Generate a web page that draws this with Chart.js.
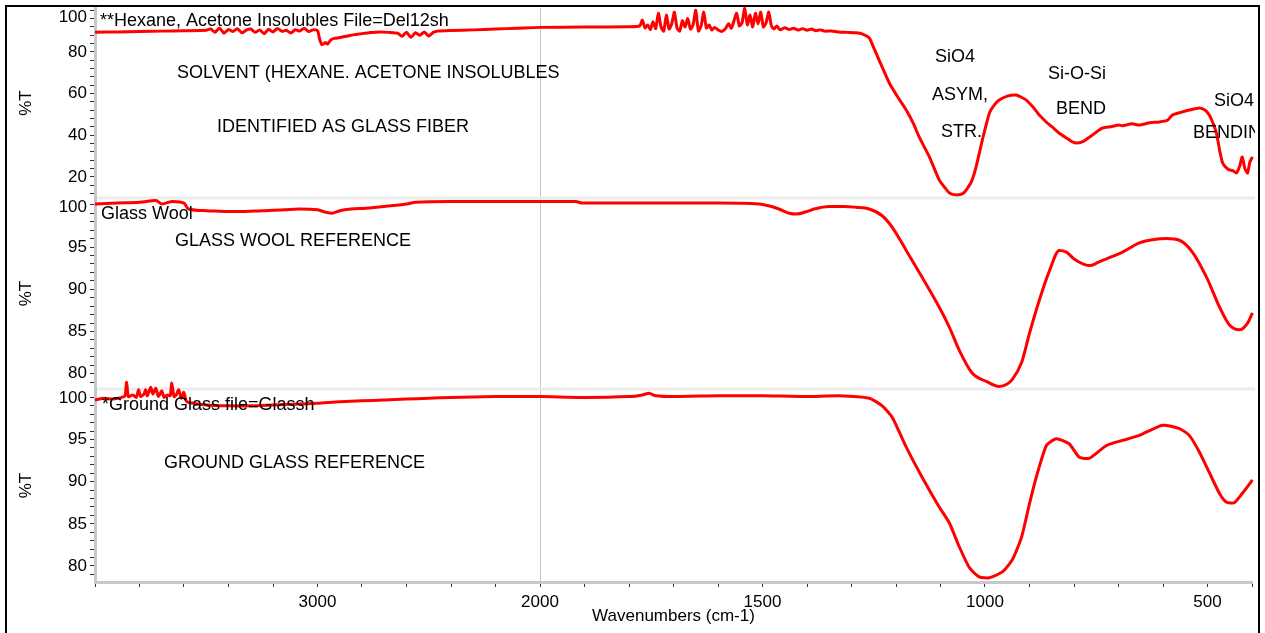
<!DOCTYPE html>
<html><head><meta charset="utf-8">
<script src="https://cdn.jsdelivr.net/npm/chart.js@4.4.0/dist/chart.umd.min.js"></script>
<style>html,body{margin:0;padding:0;background:#fff;overflow:hidden}canvas{display:block}</style>
</head><body>
<canvas id="c" width="1265" height="633"></canvas>
<script>
// ---- data (wavenumber cm-1, %T) ----
const solventWn = [4000,3900,3800,3700,3600,3500,
 3480,3460,3440,3420,3400,3380,3360,3340,3320,3300,3280,3260,3240,3220,3200,3180,3160,3140,3120,3100,3080,3060,3040,3020,3000,
 2990,2980,2965,2955,2940,2925,2900,2880,2860,2840,2800,2760,2720,2680,
 2640,2620,2600,2580,2560,2540,2520,2500,2480,2460,2400,2300,2200,2100,2000,1900,1800,
 1776,1770,1764,1758,1752,1746,1740,1734,1728,1722,1716,1710,1704,1698,1692,1686,1680,1674,1668,1662,1656,1650,1644,1638,1632,1626,1620,1614,1608,1600,1592,1584,1576,1570,1564,1558,1552,1546,1540,1534,1528,1522,1516,1510,1504,1498,1492,1486,1480,1474,1468,1460,1450,1440,1430,1420,1410,1400,1390,1380,1370,1360,1345,1330,1310,1290,1275,
 1260,1250,1238,1215,1195,1177,1160,1148,1125,1103,1090,1080,1065,1050,1042,1030,1020,1006,990,978,968,950,930,907,890,878,863,849,833,817,805,792,778,765,750,736,715,700,691,670,653,630,608,590,579,560,541,518,505,496,488,480,472,466,458,451,443,435,428,422,416,410,405,399];
const solventT = [89.5,89.6,89.8,90.0,90.2,90.4,
 91.0,89.5,91.5,89.0,90.8,89.8,91.2,89.2,90.5,91.0,89.4,90.6,88.8,90.9,89.6,91.3,89.9,90.4,89.1,90.7,90.0,91.4,89.8,90.6,90.2,
 86.0,83.5,84.5,83.8,85.8,86.5,86.9,87.4,87.8,88.2,88.8,89.3,89.6,89.4,
 89.0,87.5,89.5,87.0,89.2,88.0,89.6,87.6,89.4,90.0,90.3,90.6,91.0,91.4,91.8,92.0,92.1,
 92.5,95.3,91.5,93.0,90.8,94.5,91.2,98.6,92.0,90.0,97.7,91.0,93.5,99.1,91.4,90.0,95.0,92.0,96.0,91.0,93.0,100.0,90.0,92.5,99.1,91.5,93.0,90.5,91.8,90.6,89.8,91.0,93.5,91.4,95.0,98.6,92.5,94.0,101.0,93.0,97.7,92.0,98.6,93.5,99.1,92.0,94.0,99.1,92.5,91.0,92.5,90.6,91.6,90.8,91.4,90.5,91.2,90.4,91.0,90.2,90.6,90.0,90.1,89.6,89.4,89.2,88.6,
 86.7,82.0,76.1,65.1,58.0,52.1,45.2,39.2,29.6,18.6,14.8,12.3,11.4,12.0,13.8,18.0,24.8,37.7,50.7,54.8,56.9,58.8,59.3,56.9,53.0,49.7,46.5,44.0,41.0,38.7,37.0,36.3,37.2,39.2,41.5,43.5,44.2,44.9,44.6,45.5,44.9,46.0,46.4,47.2,49.7,51.0,52.1,53.1,52.0,49.7,46.0,41.1,32.0,26.7,24.5,23.4,23.0,21.9,25.0,29.6,24.0,21.9,27.0,29.6];

const woolWn = [4000,3900,3800,3727,3700,3650,3600,3580,3500,3400,3354,3250,3150,3084,3000,2960,2936,2900,2850,2783,2700,2600,2558,2400,2200,2004,1920,1905,1800,1700,1600,1508,1480,1463,1440,1424,1400,1384,1350,1316,1290,1260,1231,1208,1177,1141,1103,1080,1058,1029,997,968,950,939,918,900,878,855,833,817,800,788,765,745,727,691,653,620,592,563,534,502,473,451,428,410,399];
const woolT = [100.1,100.2,100.3,100.5,100.1,100.4,100.2,99.5,99.3,99.2,99.2,99.3,99.4,99.5,99.4,99.1,99.0,99.3,99.5,99.6,99.8,100.1,100.3,100.4,100.4,100.4,100.4,100.2,100.2,100.2,100.2,100.1,99.8,99.5,99.0,98.9,99.2,99.5,99.8,99.8,99.7,99.5,98.7,97.3,94.6,91.4,87.9,85.5,82.8,80.1,79.1,78.5,78.8,79.3,81.3,84.8,88.7,92.2,94.6,94.4,93.6,93.2,92.8,93.2,93.6,94.4,95.5,95.9,96.0,95.8,94.4,91.4,87.9,85.8,85.2,86.0,87.2];

const groundWn = [4000,3960,3920,3880,3865,3858,3850,3830,3815,3804,3795,3780,3772,3765,3750,3740,3727,3715,3700,3690,3675,3662,3655,3645,3635,3624,3612,3601,3590,3579,
 3500,3400,3300,3200,3100,3000,2900,2800,2700,2600,2500,2400,2200,2000,1900,1800,1770,1755,1740,1700,1600,1500,1400,1328,1260,1231,1208,1177,1141,1103,1080,1058,1035,1013,990,961,939,918,900,885,862,840,811,788,765,727,691,653,601,563,541,518,496,473,458,440,422,399];
const groundT = [99.7,99.9,99.8,100.0,100.2,101.8,100.1,100.3,100.0,100.9,100.1,100.4,100.9,100.2,101.2,100.4,101.1,100.1,100.8,100.0,100.3,100.2,101.7,100.1,100.3,100.9,99.9,100.6,99.6,99.4,
 99.1,99.0,99.0,99.1,99.2,99.3,99.5,99.6,99.7,99.8,99.9,100.0,100.1,100.1,100.0,100.1,100.3,100.5,100.2,100.1,100.2,100.2,100.1,100.2,99.9,99.0,97.6,94.1,90.5,87.0,85.1,82.3,79.8,78.7,78.6,79.3,80.7,83.4,87.4,90.5,94.3,95.1,94.5,92.9,92.8,94.3,94.9,95.5,96.7,96.3,95.5,93.5,91.1,88.6,87.6,87.5,88.6,90.2];

// ---- tick labels ----
const xTickLabels = [3000, 2000, 1500, 1000, 500];
const topTickLabels = [20, 40, 60, 80, 100];
const midTickLabels = [80, 85, 90, 95, 100];
const botTickLabels = [80, 85, 90, 95, 100];

// Omnic-style axis: scale halves above 2000 cm-1
function toAxis(w){ return w > 2000 ? 2000 + (w - 2000) / 2 : w; }
function fromAxis(a){ return a > 2000 ? Math.round(2000 + (a - 2000) * 2) : Math.round(a); }
function pts(wn, t){ return wn.map((w, i) => ({x: toAxis(w), y: t[i]})); }

const FAM = "'Liberation Sans', Arial, sans-serif";
const TOPVAL = 100; // top label of each panel is kept inside its panel

function yAxis(min, max, weight, stackWeight, step, labels){
  return {
    type: 'linear', position: 'left', stack: 'ir', stackWeight: stackWeight, weight: weight,
    min: min, max: max,
    afterBuildTicks: s => {
      const t = [];
      for (let v = Math.ceil(min / step) * step; v <= TOPVAL + 1e-9; v += step) t.push({value: Math.round(v * 1000) / 1000});
      s.ticks = t;
    },
    afterFit: s => { s.width = 95; s.paddingTop = 0; s.paddingBottom = 0; },
    ticks: {autoSkip: false, color: '#000', font: {family: FAM, size: 17}, padding: 3,
      callback: v => (labels.includes(v) && v !== TOPVAL) ? String(v) : ''},
    grid: {drawOnChartArea: false, tickLength: 5, tickColor: '#333', lineWidth: 1},
    border: {color: '#c8c8c8', width: 3},
    title: {display: true, text: '%T', color: '#000', font: {family: FAM, size: 17}, padding: {top: 16, bottom: 0}}
  };
}

const annotations = [
  {t: '**Hexane, Acetone Insolubles File=Del12sh', x: 100, y: 21},
  {t: 'SOLVENT (HEXANE. ACETONE INSOLUBLES', x: 177, y: 73},
  {t: 'IDENTIFIED AS GLASS FIBER', x: 217, y: 127},
  {t: 'SiO4', x: 935, y: 57},
  {t: 'ASYM,', x: 932, y: 95},
  {t: 'STR.', x: 941, y: 132},
  {t: 'Si-O-Si', x: 1048, y: 74},
  {t: 'BEND', x: 1056, y: 109},
  {t: 'SiO4', x: 1214, y: 101},
  {t: 'BENDIN', x: 1193, y: 133},
  {t: 'Glass Wool', x: 101, y: 214},
  {t: 'GLASS WOOL REFERENCE', x: 175, y: 241},
  {t: '*Ground Glass file=Glassh', x: 102, y: 405},
  {t: 'GROUND GLASS REFERENCE', x: 164, y: 463}
];

const deco = {
  id: 'deco',
  beforeDraw(chart){
    const c = chart.ctx; c.save(); c.fillStyle = '#fff'; c.fillRect(0, 0, chart.width, chart.height); c.restore();
  },
  beforeDatasetsDraw(chart){
    const c = chart.ctx, a = chart.chartArea, s = chart.scales;
    c.save(); c.strokeStyle = '#ececec'; c.lineWidth = 3;
    [s.yMid.top, s.yBot.top].forEach(y => { c.beginPath(); c.moveTo(a.left + 2, y); c.lineTo(a.right + 3, y); c.stroke(); });
    c.restore();
  },
  afterDraw(chart){
    const c = chart.ctx, a = chart.chartArea, s = chart.scales;
    c.save();
    c.fillStyle = '#000'; c.font = '17px ' + FAM; c.textBaseline = 'middle'; c.textAlign = 'right';
    [s.yTop, s.yMid, s.yBot].forEach(sc => {
      const y = Math.max(sc.getPixelForValue(TOPVAL), sc.top + 9);
      c.fillText(String(TOPVAL), sc.right - 8, y);
    });
    c.restore();
    c.save();
    c.beginPath(); c.rect(a.left, 0, a.right + 3 - a.left, chart.height); c.clip();
    c.fillStyle = '#000'; c.font = '18px ' + FAM; c.textBaseline = 'middle'; c.textAlign = 'left';
    annotations.forEach(o => c.fillText(o.t, o.x, o.y));
    c.restore();
    c.save(); c.strokeStyle = '#000'; c.lineWidth = 2; c.strokeRect(6, 6, 1253, 700); c.restore();
  }
};

const line = {borderColor: '#ff0000', borderWidth: 3, pointRadius: 0, fill: false, clip: false};

new Chart(document.getElementById('c'), {
  type: 'line',
  data: {datasets: [
    Object.assign({label: 'Hexane, Acetone Insolubles', data: pts(solventWn, solventT), yAxisID: 'yTop', tension: 0.2}, line),
    Object.assign({label: 'Glass Wool', data: pts(woolWn, woolT), yAxisID: 'yMid', cubicInterpolationMode: 'monotone'}, line),
    Object.assign({label: 'Ground Glass', data: pts(groundWn, groundT), yAxisID: 'yBot', tension: 0.2}, line)
  ]},
  options: {
    responsive: false, animation: false, devicePixelRatio: 1,
    layout: {padding: {top: 8, right: 13, left: 0, bottom: 0}},
    plugins: {legend: {display: false}, tooltip: {enabled: false}},
    scales: {
      x: {
        type: 'linear', position: 'bottom', reverse: true, min: 400, max: 3000,
        afterBuildTicks: s => { const t = []; for (let v = 400; v <= 3000; v += 100) t.push({value: v}); s.ticks = t; },
        afterFit: s => { s.height = 51; s.paddingLeft = 0; s.paddingRight = 0; },
        ticks: {autoSkip: false, maxRotation: 0, color: '#000', font: {family: FAM, size: 17}, padding: 5,
          callback: v => { const w = fromAxis(v); return xTickLabels.includes(w) ? String(w) : ''; }},
        grid: {color: c => (c.tick && fromAxis(c.tick.value) === 2000) ? '#c4c4c4' : 'rgba(0,0,0,0)',
          lineWidth: 1, tickColor: '#333', tickLength: 5, drawOnChartArea: true},
        border: {color: '#c8c8c8', width: 3},
        title: {display: true, text: 'Wavenumbers (cm-1)', color: '#000', font: {family: FAM, size: 17}, padding: {top: 0, bottom: 6}}
      },
      yTop: yAxis(9.9, 101.1, 3, 190, 4, topTickLabels),
      yMid: yAxis(78.2, 100.8, 2, 191, 1, midTickLabels),
      yBot: yAxis(78.1, 101.0, 1, 193, 1, botTickLabels)
    }
  },
  plugins: [deco]
});
</script>
</body></html>
